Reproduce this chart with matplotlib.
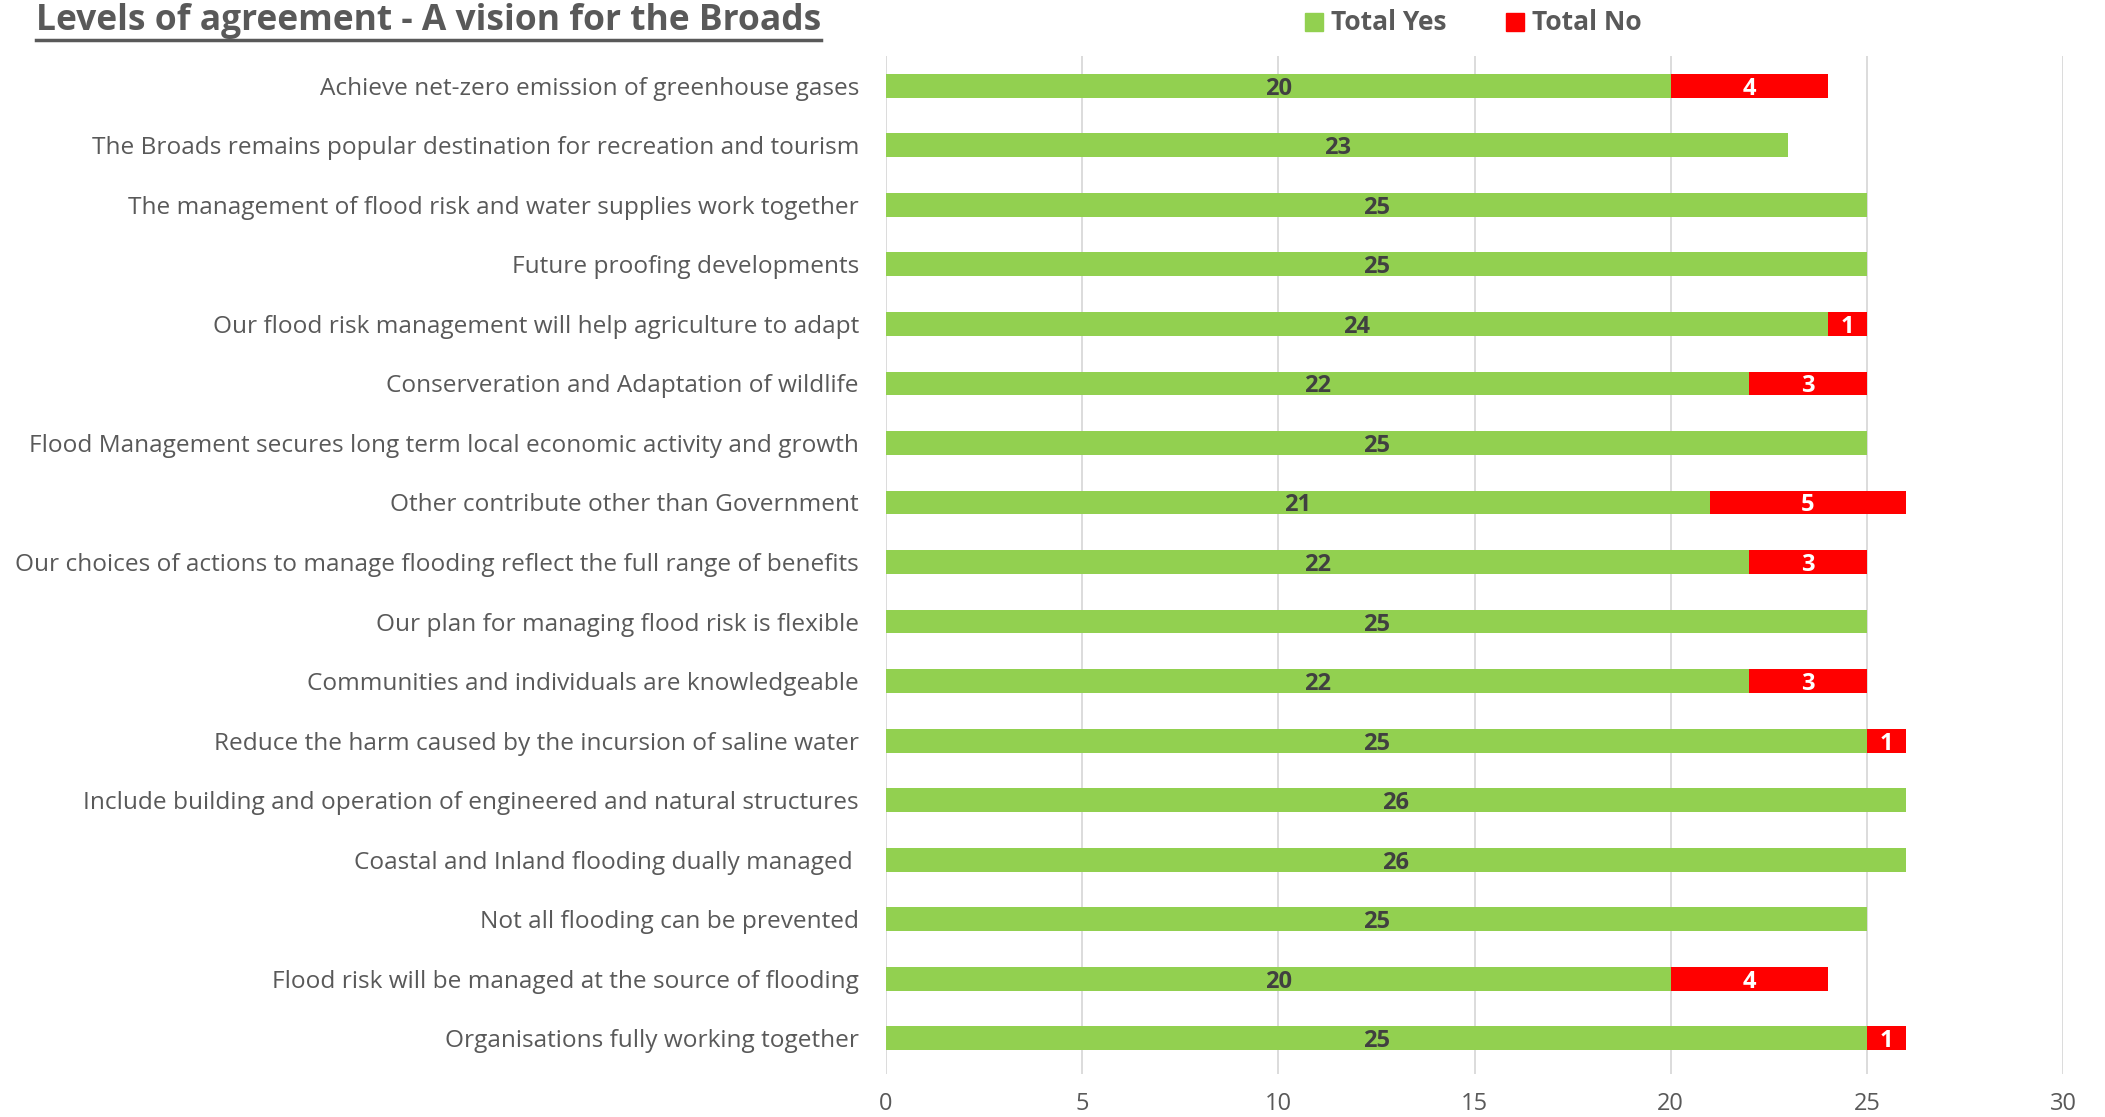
import matplotlib
matplotlib.use("Agg")
import matplotlib.pyplot as plt
from matplotlib.lines import Line2D
from matplotlib.patches import Rectangle

plt.rcParams['font.family'] = ['Open Sans', 'DejaVu Sans']

categories = [
    "Achieve net-zero emission of greenhouse gases",
    "The Broads remains popular destination for recreation and tourism",
    "The management of flood risk and water supplies work together",
    "Future proofing developments",
    "Our flood risk management will help agriculture to adapt",
    "Conserveration and Adaptation of wildlife",
    "Flood Management secures long term local economic activity and growth",
    "Other contribute other than Government",
    "Our choices of actions to manage flooding reflect the full range of benefits",
    "Our plan for managing flood risk is flexible",
    "Communities and individuals are knowledgeable",
    "Reduce the harm caused by the incursion of saline water",
    "Include building and operation of engineered and natural structures",
    "Coastal and Inland flooding dually managed ",
    "Not all flooding can be prevented",
    "Flood risk will be managed at the source of flooding",
    "Organisations fully working together",
]
total_yes = [20, 23, 25, 25, 24, 22, 25, 21, 22, 25, 22, 25, 26, 26, 25, 20, 25]
total_no = [4, 0, 0, 0, 1, 3, 0, 5, 3, 0, 3, 1, 0, 0, 0, 4, 1]
x_ticks = [0, 5, 10, 15, 20, 25, 30]

GREEN = "#92D050"
RED = "#FF0000"
GRAY = "#595959"
DARK = "#404040"

W, H = 2105, 1117
fig = plt.figure(figsize=(W / 100, H / 100), dpi=100)
ax = fig.add_axes([886 / W, 1 - 1074 / H, (2063 - 886) / W, (1074 - 56) / H])

y = list(range(len(categories)))
ax.barh(y, total_yes, height=0.4, color=GREEN, zorder=3)
ax.barh(y, total_no, left=total_yes, height=0.4, color=RED, zorder=3)

for i, (yv, nv) in enumerate(zip(total_yes, total_no)):
    if yv:
        ax.text(yv / 2, i + 0.05, str(yv), ha="center", va="center", fontsize=17,
                fontweight="bold", color=DARK, zorder=4)
    if nv:
        ax.text(yv + nv / 2, i + 0.05, str(nv), ha="center", va="center", fontsize=17,
                fontweight="bold", color="white", zorder=4)

ax.set_xlim(0, 30)
ax.set_ylim(16.6, -0.5)
ax.set_xticks(x_ticks)
ax.set_xticklabels([str(t) for t in x_ticks], fontsize=17, color=GRAY)
ax.set_yticks(y)
ax.set_yticklabels(categories, fontsize=17.6, color=GRAY)
ax.tick_params(axis="both", length=0)
ax.tick_params(axis="x", pad=13)
ax.tick_params(axis="y", pad=19.5)
for s in ax.spines.values():
    s.set_visible(False)
ax.grid(axis="x", color="#D9D9D9", linewidth=1.3, zorder=0)
ax.set_axisbelow(True)

# Title with underline
title = fig.text(36 / W, 1 - 21 / H, "Levels of agreement - A vision for the Broads",
                 fontsize=25.5, fontweight="bold", color=GRAY, ha="left", va="center")

# Legend
lx = 1305 / W
leg_y = 1 - 22 / H
fig.patches.append(Rectangle((lx, leg_y - 9 / H), 18 / W, 18 / H, transform=fig.transFigure,
                             color=GREEN))
fig.text(lx + 26 / W, leg_y, "Total Yes", fontsize=19, fontweight="bold", color=GRAY,
         ha="left", va="center")
rx = 1506 / W
fig.patches.append(Rectangle((rx, leg_y - 9 / H), 18 / W, 18 / H, transform=fig.transFigure,
                             color=RED))
fig.text(rx + 26 / W, leg_y, "Total No", fontsize=19, fontweight="bold", color=GRAY,
         ha="left", va="center")

fig.canvas.draw()
bb = title.get_window_extent(renderer=fig.canvas.get_renderer())
uy = (bb.y0 - 1) / H
fig.add_artist(Line2D([bb.x0 / W, bb.x1 / W], [uy, uy], transform=fig.transFigure,
                      color=GRAY, linewidth=2.5))

fig.savefig("out.png", dpi=100)
